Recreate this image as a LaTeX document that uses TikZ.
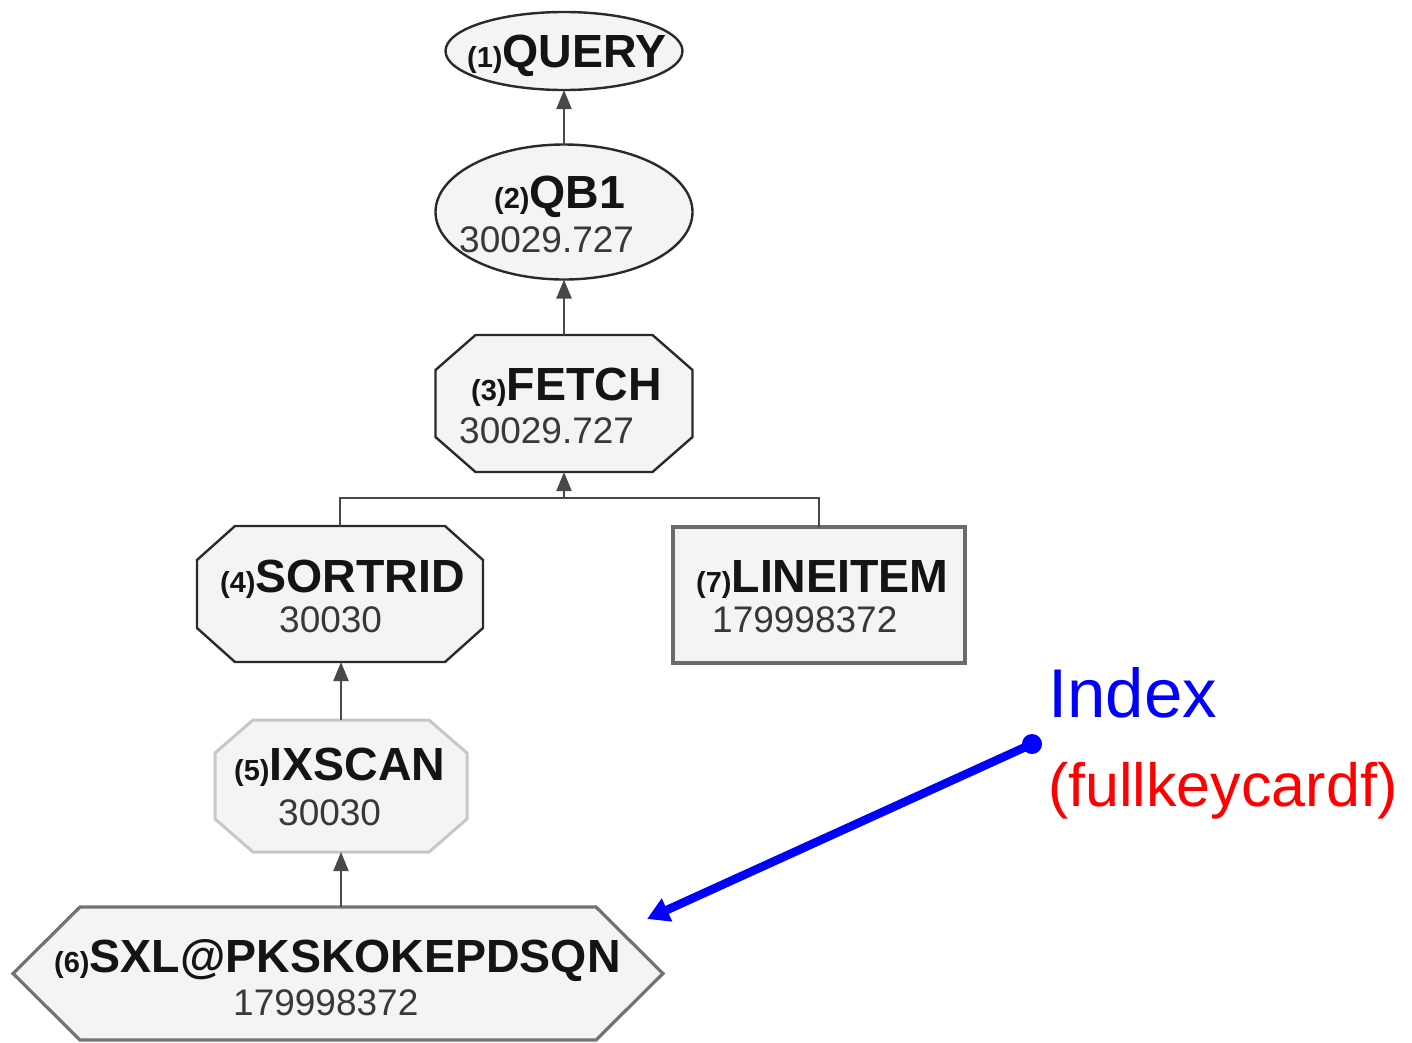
\documentclass[tikz,border=0pt]{standalone}
\usepackage{fontspec}
\setmainfont{Liberation Sans}
\usetikzlibrary{arrows.meta,calc,shapes.geometric}

\definecolor{nodeline}{HTML}{2A2A2A}
\definecolor{nodefill}{HTML}{F4F4F4}
\definecolor{linkgray}{HTML}{484848}
\definecolor{numgray}{HTML}{383838}
\definecolor{idxblue}{RGB}{0,0,255}
\definecolor{idxred}{RGB}{255,0,0}

% operator label: small "(n)" followed by the operator name
\newcommand\oplabel[2]{{\fontsize{29}{29}\selectfont(#1)}#2}

% outline of an octagonal operator box around an invisible rectangle node
\newcommand\octoutline[4]{%
  \draw[#4] ($(#1.north west)+(#2,0)$) -- ($(#1.north east)+(-#2,0)$)
    -- ($(#1.north east)+(0,#3)$) -- ($(#1.south east)+(0,-#3)$)
    -- ($(#1.south east)+(-#2,0)$) -- ($(#1.south west)+(#2,0)$)
    -- ($(#1.south west)+(0,-#3)$) -- ($(#1.north west)+(0,#3)$) -- cycle;}

\begin{document}
\begin{tikzpicture}[x=1pt,y=-1pt,
  frame/.style={draw=none,inner sep=0pt,outer sep=0pt},
  oval/.style={ellipse,draw=nodeline,fill=nodefill,line width=2.4pt,inner sep=0pt,outer sep=0pt},
  octline/.style={draw=nodeline,fill=nodefill,line width=2.4pt,line join=miter},
  title/.style={inner sep=0pt,anchor=base west,text=black!92,font=\fontsize{46.5}{46.5}\selectfont\bfseries},
  number/.style={inner sep=0pt,anchor=base west,text=numgray,font=\fontsize{37}{37}\selectfont},
  link/.style={draw=linkgray,line width=2.1pt},
  uplink/.style={link,-{Triangle[width=15pt,length=19pt]}}
]
\useasboundingbox (0,0) rectangle (1412,1042);
\clip (0,0) rectangle (1412,1042);

% ---- operator shapes ----
\node[oval,minimum width=237pt,minimum height=78pt] (n1) at (564,51) {};
\node[oval,minimum width=257pt,minimum height=135pt] (n2) at (564,212) {};

\node[frame,minimum width=257pt,minimum height=137pt] (n3) at (564,403.5) {};
\octoutline{n3}{40}{35}{octline}

\node[frame,minimum width=286pt,minimum height=136pt] (n4) at (340,594) {};
\octoutline{n4}{38}{34}{octline}

\node[frame,minimum width=292pt,minimum height=136pt] (n7) at (819,595) {};
\draw[draw=black!58,fill=nodefill,line width=4pt] (n7.north west) rectangle (n7.south east);

\node[frame,minimum width=252pt,minimum height=132pt] (n5) at (341,786) {};
\octoutline{n5}{38}{33}{draw=black!22,fill=nodefill,line width=3pt,line join=miter}

\node[frame,minimum width=650pt,minimum height=133pt] (n6) at (338,973.5) {};
\draw[draw=black!55,fill=nodefill,line width=3.2pt,line join=miter]
  (n6.west) -- ($(n6.north west)+(67,0)$) -- ($(n6.north east)+(-67,0)$)
  -- (n6.east) -- ($(n6.south east)+(-67,0)$) -- ($(n6.south west)+(67,0)$) -- cycle;

% ---- texts ----
\node[title] (t1) at (467,67) {\oplabel{1}{QUERY}};
\node[title] (t2) at (494,208) {\oplabel{2}{QB1}};
\node[number] (v2) at (459,252) {30029.727};
\node[title] (t3) at (471,400) {\oplabel{3}{FETCH}};
\node[number] (v3) at (459,443) {30029.727};
\node[title] (t4) at (220,592) {\oplabel{4}{SORTRID}};
\node[number] (v4) at (279,632) {30030};
\node[title] (t7) at (696,592) {\oplabel{7}{LINEITEM}};
\node[number] (v7) at (712,632) {179998372};
\node[title] (t5) at (234,780) {\oplabel{5}{IXSCAN}};
\node[number] (v5) at (278,825) {30030};
\node[title] (t6) at (54,972) {\oplabel{6}{SXL@PKSKOKEPDSQN}};
\node[number] (v6) at (233,1015) {179998372};

% ---- plan edges ----
\draw[uplink] (n2.north) -- (n1.south);
\draw[uplink] (n3.north) -- (n2.south);
\coordinate (j) at (564,498);
\draw[link] (n4.north) -- (n4.north |- j) -- (n7.north |- j) -- (n7.north);
\draw[uplink] (j) -- (n3.south);
\draw[uplink] (n5.north) -- (n5.north |- n4.south);
\draw[uplink] (n6.north -| n5.north) -- (n5.south);

% ---- index annotation ----
\node[inner sep=0pt,anchor=base west,text=idxblue,font=\fontsize{69}{69}\selectfont] (idx) at (1048,717) {Index};
\node[inner sep=0pt,anchor=base west,text=idxred,font=\fontsize{61}{61}\selectfont] (card) at (1048,806) {(fullkeycardf)};
\coordinate (ip) at (1032,744);
\coordinate (itip) at (647,919);
\draw[idxblue,line width=8.5pt,-{Triangle[width=24pt,length=22pt]}] (ip) -- (itip);
\fill[idxblue] (ip) circle (10);
\end{tikzpicture}
\end{document}
